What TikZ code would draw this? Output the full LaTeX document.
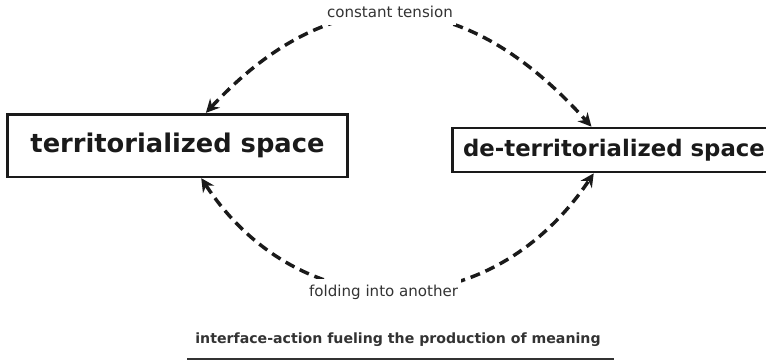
\documentclass[tikz,border=0pt]{standalone}
\usepackage{fontspec}
\setmainfont{DejaVu Sans}
\usetikzlibrary{arrows.meta}
\definecolor{ink}{HTML}{1A1A1A}
\definecolor{soft}{HTML}{333333}

\begin{document}
\begin{tikzpicture}[x=0.75pt,y=-0.75pt,
  space/.style={draw=ink, line width=2pt, align=center, text=ink,
                inner sep=0pt},
  terr/.style={space, minimum width=255pt, minimum height=47pt,
               font=\fontsize{19.3}{22}\selectfont\bfseries},
  deterr/.style={space, minimum width=242pt, minimum height=33pt,
                 font=\fontsize{17.1}{20}\selectfont\bfseries},
  flow/.style={draw=ink, line width=2.6pt, dash pattern=on 7.5pt off 4.5pt,
               {Stealth[length=10pt,width=10pt]}-{Stealth[length=10pt,width=10pt]}},
  tag/.style={fill=white, text=soft, inner xsep=2pt, inner ysep=5pt,
              font=\fontsize{11.3}{13}\selectfont}
]
\useasboundingbox (0,0) rectangle (766,361);

\node[terr]   (terr)   at (177.5,145.5) {territorialized space};
\node[deterr] (deterr) at (614,150)     {de-territorialized space};

\draw[flow] (terr.49) .. controls (330,-20) and (460,-20) .. (deterr.134)
  node[tag, pos=0.5, xshift=-4.5pt, yshift=2pt] (tension) {constant tension};
\draw[flow] (terr.-54) .. controls (300,328) and (490,328) .. (deterr.229)
  node[tag, pos=0.5, xshift=-9pt, yshift=-2pt] (folding) {folding into another};

\node[text=soft, font=\fontsize{10.6}{13}\selectfont\bfseries] (meaning) at (398,340)
  {interface-action fueling the production of meaning};
\draw[soft, line width=1.2pt] (187,359) -- (614,359);
\end{tikzpicture}
\end{document}
